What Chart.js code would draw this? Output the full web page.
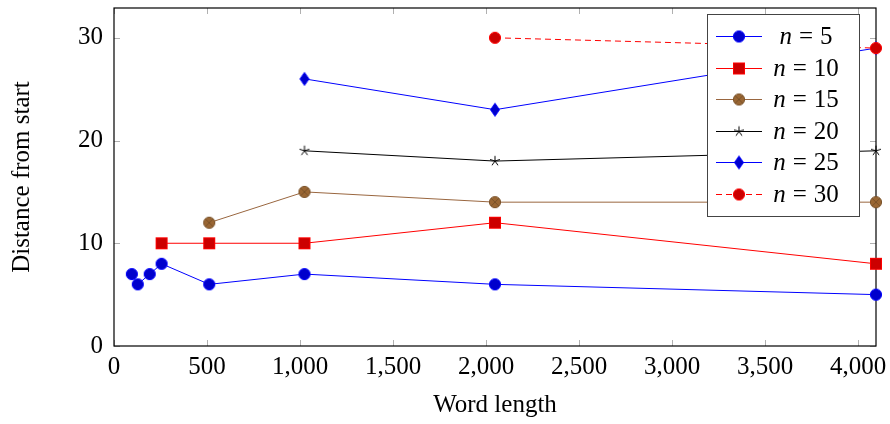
<html>
  <head>
    <title>Distance from start vs word length</title>
    <style>
      body { margin: 0; background: white; }
      #wrap { width: 890px; height: 424px; }
    </style>
  </head>
  <body>
    <div id="wrap"><canvas id="myChart" width="890" height="424"></canvas></div>
    <script src="https://cdn.jsdelivr.net/npm/chart.js@4/dist/chart.umd.min.js"></script>
    <script>
      // data
      const xTicks = [0, 500, 1000, 1500, 2000, 2500, 3000, 3500, 4000];
      const yTicks = [0, 10, 20, 30];
      const labels = ['5', '10', '15', '20', '25', '30'];
      const n5X = [96, 128, 192, 256, 512, 1024, 2048, 4096];
      const n5Y = [7, 6, 7, 8, 6, 7, 6, 5];
      const n10X = [256, 512, 1024, 2048, 4096];
      const n10Y = [10, 10, 10, 12, 8];
      const n15X = [512, 1024, 2048, 4096];
      const n15Y = [12, 15, 14, 14];
      const n20X = [1024, 2048, 4096];
      const n20Y = [19, 18, 19];
      const n25X = [1024, 2048, 4096];
      const n25Y = [26, 23, 29];
      const n30X = [2048, 4096];
      const n30Y = [30, 29];

      const FONT = '"Liberation Serif", "Times New Roman", serif';

      function mark(draw) {
        const c = document.createElement('canvas');
        c.width = 18; c.height = 18;
        const ctx = c.getContext('2d');
        ctx.translate(9, 9);
        ctx.lineWidth = 1;
        draw(ctx);
        return c;
      }
      function circle(fill, stroke) {
        return mark(ctx => {
          ctx.beginPath(); ctx.arc(0, 0, 5.6, 0, Math.PI * 2);
          ctx.fillStyle = fill; ctx.fill();
          ctx.strokeStyle = stroke; ctx.stroke();
        });
      }
      const markBlue = circle('#0000cc', '#0000ff');
      const markRed = circle('#cc0000', '#ff0000');
      const markSquare = mark(ctx => {
        ctx.fillStyle = '#cc0000'; ctx.fillRect(-5.5, -5.5, 11, 11);
        ctx.strokeStyle = '#ff0000'; ctx.strokeRect(-5.5, -5.5, 11, 11);
      });
      const markOtimes = mark(ctx => {
        ctx.beginPath(); ctx.arc(0, 0, 5.6, 0, Math.PI * 2);
        ctx.fillStyle = '#996633'; ctx.fill();
        ctx.strokeStyle = '#7a5229'; ctx.stroke();
        const d = 5.6 * Math.SQRT1_2;
        ctx.beginPath();
        ctx.moveTo(-d, -d); ctx.lineTo(d, d);
        ctx.moveTo(-d, d); ctx.lineTo(d, -d);
        ctx.stroke();
      });
      const markStar = mark(ctx => {
        ctx.strokeStyle = '#000'; ctx.beginPath();
        for (let i = 0; i < 5; i++) {
          const a = -Math.PI / 2 + i * 2 * Math.PI / 5;
          ctx.moveTo(0, 0); ctx.lineTo(5.2 * Math.cos(a), 5.2 * Math.sin(a));
        }
        ctx.stroke();
      });
      const markDiamond = mark(ctx => {
        ctx.beginPath();
        ctx.moveTo(0, -6.5); ctx.lineTo(4.5, 0); ctx.lineTo(0, 6.5); ctx.lineTo(-4.5, 0);
        ctx.closePath();
        ctx.fillStyle = '#0000cc'; ctx.fill();
        ctx.strokeStyle = '#0000ff'; ctx.stroke();
      });

      function pts(xs, ys) {
        return xs.map((x, i) => ({ x: x, y: ys[i] }));
      }

      const series = [
        { x: n5X, y: n5Y, color: '#0000ff', marker: markBlue },
        { x: n10X, y: n10Y, color: '#ff0000', marker: markSquare },
        { x: n15X, y: n15Y, color: '#99663f', marker: markOtimes },
        { x: n20X, y: n20Y, color: '#000000', marker: markStar },
        { x: n25X, y: n25Y, color: '#0000ff', marker: markDiamond },
        { x: n30X, y: n30Y, color: '#ff0000', marker: markRed, dash: [6, 4] }
      ];

      const datasets = series.map((s, i) => ({
        label: 'n = ' + labels[i],
        data: pts(s.x, s.y),
        borderColor: s.color,
        backgroundColor: s.color,
        borderWidth: 1,
        borderDash: s.dash || [],
        pointStyle: s.marker,
        pointRadius: 6,
        clip: false,
        order: 5 - i
      }));

      // axis frame with inward ticks on all four sides
      const framePlugin = {
        id: 'frame',
        beforeDatasetsDraw(chart) {
          const { ctx, chartArea: a, scales } = chart;
          ctx.save();
          ctx.strokeStyle = '#b0b0b0';
          ctx.lineWidth = 1;
          ctx.beginPath();
          xTicks.forEach(v => {
            const px = Math.round(scales.x.getPixelForValue(v)) + 0.5;
            ctx.moveTo(px, a.bottom); ctx.lineTo(px, a.bottom - 6);
            ctx.moveTo(px, a.top); ctx.lineTo(px, a.top + 6);
          });
          yTicks.forEach(v => {
            const py = Math.round(scales.y.getPixelForValue(v)) + 0.5;
            ctx.moveTo(a.left, py); ctx.lineTo(a.left + 6, py);
            ctx.moveTo(a.right, py); ctx.lineTo(a.right - 6, py);
          });
          ctx.stroke();
          ctx.strokeStyle = '#000';
          ctx.lineWidth = 1.2;
          ctx.strokeRect(a.left, a.top, a.right - a.left, a.bottom - a.top);
          ctx.restore();
        }
      };

      // legend box in the top right corner of the plot
      const legendPlugin = {
        id: 'boxLegend',
        afterDraw(chart) {
          const ctx = chart.ctx;
          const bx = 707, by = 14, bw = 152, bh = 202;
          ctx.save();
          ctx.fillStyle = '#fff';
          ctx.fillRect(bx, by, bw, bh);
          ctx.strokeStyle = '#444';
          ctx.lineWidth = 1;
          ctx.strokeRect(bx + 0.5, by + 0.5, bw, bh);
          series.forEach((s, i) => {
            const y = 36 + i * 31.5;
            ctx.strokeStyle = s.color;
            ctx.lineWidth = 1;
            ctx.setLineDash(s.dash || []);
            ctx.beginPath();
            ctx.moveTo(716, Math.round(y) + 0.5); ctx.lineTo(762, Math.round(y) + 0.5);
            ctx.stroke();
            ctx.setLineDash([]);
            ctx.drawImage(s.marker, 739 - 9, Math.round(y) - 9 + 0.5);
            // text "n = k", centred
            ctx.fillStyle = '#000';
            ctx.textBaseline = 'alphabetic';
            ctx.textAlign = 'left';
            const italic = 'italic 25px ' + FONT, roman = '25px ' + FONT;
            ctx.font = italic; const wn = ctx.measureText('n').width;
            ctx.font = roman; const we = ctx.measureText('=').width;
            const wd = ctx.measureText(labels[i]).width;
            const gap = 7;
            const total = wn + gap + we + gap + wd;
            let x = 806 - total / 2;
            const base = y + 8;
            ctx.font = italic; ctx.fillText('n', x, base); x += wn + gap;
            ctx.font = roman; ctx.fillText('=', x, base); x += we + gap;
            ctx.fillText(labels[i], x, base);
          });
          ctx.restore();
        }
      };

      new Chart(document.getElementById('myChart'), {
        type: 'line',
        data: { datasets: datasets },
        plugins: [framePlugin, legendPlugin],
        options: {
          responsive: false,
          animation: false,
          events: [],
          layout: { padding: { left: 0, right: 14, top: 8, bottom: 0 } },
          plugins: { legend: { display: false }, tooltip: { enabled: false } },
          scales: {
            x: {
              type: 'linear',
              min: 0,
              max: 4096,
              afterFit: s => { s.height = 78; s.paddingLeft = 0; s.paddingRight = 0; },
              afterBuildTicks: s => { s.ticks = xTicks.map(v => ({ value: v })); },
              grid: { display: false, drawTicks: false },
              border: { display: false },
              ticks: {
                color: '#000',
                padding: 6,
                maxRotation: 0,
                font: { family: FONT, size: 25 },
                callback: v => v.toLocaleString('en-US')
              },
              title: {
                display: true,
                text: 'Word length',
                color: '#000',
                font: { family: FONT, size: 25 },
                padding: { top: 0, bottom: 4 }
              }
            },
            y: {
              type: 'linear',
              min: 0,
              max: 32.9,
              afterFit: s => { s.width = 114; s.paddingTop = 0; s.paddingBottom = 0; },
              afterBuildTicks: s => { s.ticks = yTicks.map(v => ({ value: v })); },
              grid: { display: false, drawTicks: false },
              border: { display: false },
              ticks: {
                color: '#000',
                padding: 11,
                font: { family: FONT, size: 25 }
              },
              title: {
                display: true,
                text: 'Distance from start',
                color: '#000',
                font: { family: FONT, size: 25 },
                padding: { top: 7, bottom: 0 }
              }
            }
          }
        }
      });
    </script>
  </body>
</html>
